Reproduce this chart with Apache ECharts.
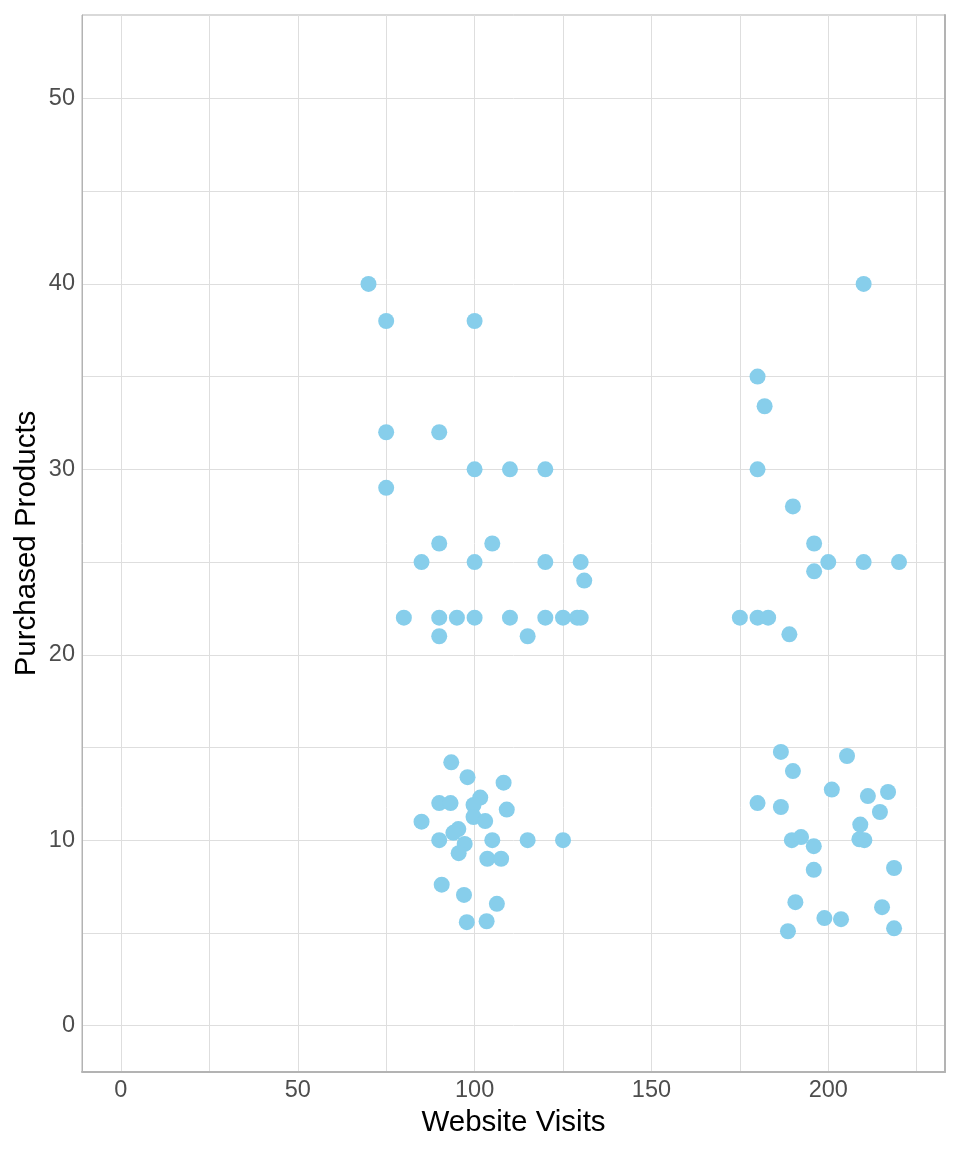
<!DOCTYPE html>
<html>
<head>
<meta charset="utf-8">
<script src="https://cdn.jsdelivr.net/npm/echarts@6/dist/echarts.min.js"></script>
<style>
	html, body { margin: 0; padding: 0; background: #fff; }
	#main { width: 960px; height: 1152px; }
</style>
</head>
<body>
<div id="main"></div>
<script>
// website visits (x) and purchased products (y), one entry per point
var visits = [
	70, 75, 100, 75, 90, 75, 100, 110, 120, 90, 105, 85, 100, 120, 130, 131,
	80, 90, 95, 100, 110, 120, 125, 129, 130, 90, 115,
	210, 180, 182, 180, 190, 196, 196, 200, 210, 220, 175, 180, 183, 189,
	93.4, 98, 108.2, 90, 93.2, 101.6, 99.7, 109.1, 85, 99.7, 103, 95.4, 94,
	90, 105, 115, 125, 97.2, 95.5, 103.6, 107.5, 90.7, 97, 106.3, 97.8, 103.4,
	186.6, 205.3, 190, 201, 211.2, 216.9, 180, 186.6, 214.6, 209.05, 189.7,
	192.3, 195.9, 208.8, 210.2, 195.9, 218.6, 190.7, 215.2, 198.9, 203.6, 188.6, 218.6
];
var purchases = [
	40, 38, 38, 32, 32, 29, 30, 30, 30, 26, 26, 25, 25, 25, 25, 24,
	22, 22, 22, 22, 22, 22, 22, 22, 22, 21, 21,
	40, 35, 33.4, 30, 28, 26, 24.5, 25, 25, 25, 22, 22, 22, 21.1,
	14.2, 13.4, 13.1, 12, 12, 12.3, 11.9, 11.65, 11, 11.25, 11.03, 10.6, 10.4,
	10, 10, 10, 10, 9.8, 9.3, 9, 9, 7.6, 7.05, 6.57, 5.58, 5.63,
	14.76, 14.54, 13.73, 12.73, 12.38, 12.6, 12, 11.79, 11.52, 10.84, 10,
	10.17, 9.68, 10.05, 10, 8.4, 8.5, 6.66, 6.39, 5.8, 5.74, 5.09, 5.25
];
var xGridValues = [0, 25, 50, 75, 100, 125, 150, 175, 200, 225];
var xLabelValues = [0, 50, 100, 150, 200];
var yGridValues = [0, 5, 10, 15, 20, 25, 30, 35, 40, 45, 50];
var yLabelValues = [0, 10, 20, 30, 40, 50];

var points = [];
for (var i = 0; i < visits.length; i++) {
	points.push([visits[i], purchases[i]]);
}

var font = 'Liberation Sans, Arial, sans-serif';
var myChart = echarts.init(document.getElementById('main'));
var option = {
	animation: false,
	grid: {
		left: 82,
		right: 15,
		top: 15,
		bottom: 80,
		containLabel: false,
		outerBoundsMode: 'none',
		show: true,
		borderColor: '#b3b3b3',
		borderWidth: 1
	},
	xAxis: {
		type: 'value',
		min: -11,
		max: 233,
		name: 'Website Visits',
		nameLocation: 'middle',
		nameGap: 36,
		nameMoveOverlap: false,
		nameTextStyle: { fontSize: 29.5, color: '#000', fontFamily: font },
		axisLine: { show: true, onZero: false, lineStyle: { color: '#b3b3b3', width: 2 } },
		axisTick: { show: false, customValues: xGridValues },
		axisLabel: {
			customValues: xLabelValues,
			fontSize: 23.5,
			color: '#4d4d4d',
			fontFamily: font,
			margin: 6.5
		},
		splitLine: { show: true, lineStyle: { color: '#dedede', width: 1 } }
	},
	yAxis: [{
		type: 'value',
		min: -2.5,
		max: 54.5,
		name: 'Purchased Products',
		nameLocation: 'middle',
		nameGap: 40.5,
		nameMoveOverlap: false,
		nameTextStyle: { fontSize: 29.5, color: '#000', fontFamily: font },
		axisLine: { show: true, onZero: false, lineStyle: { color: '#b3b3b3', width: 1 } },
		axisTick: { show: false, customValues: yGridValues },
		axisLabel: {
			customValues: yLabelValues,
			fontSize: 23.5,
			color: '#4d4d4d',
			fontFamily: font,
			margin: 7
		},
		splitLine: { show: true, lineStyle: { color: '#dedede', width: 1 } }
	}, {
		type: 'value',
		position: 'right',
		min: -2.5,
		max: 54.5,
		axisLine: { show: true, onZero: false, lineStyle: { color: '#b3b3b3', width: 2 } },
		axisTick: { show: false },
		axisLabel: { show: false },
		splitLine: { show: false }
	}],
	series: [{
		type: 'scatter',
		data: points,
		symbolSize: 16,
		itemStyle: { color: '#87ceeb', opacity: 1 }
	}]
};
myChart.setOption(option);
</script>
</body>
</html>
